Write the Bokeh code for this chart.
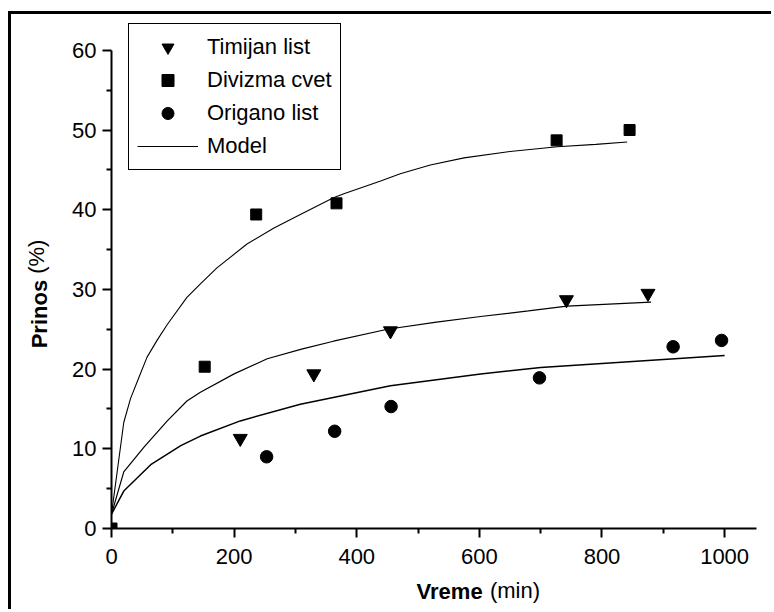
from bokeh.plotting import figure
from bokeh.models import FixedTicker, Legend, LegendItem, Range1d, LinearAxis
from bokeh.embed import file_html
from bokeh.resources import INLINE

# ---------------- data ----------------
timijan_x = [210, 330, 455, 742, 875]
timijan_y = [11.3, 19.4, 24.8, 28.7, 29.5]

divizma_x = [0, 152, 236, 367, 726, 845]
divizma_y = [0.0, 20.3, 39.4, 40.8, 48.7, 50.0]

origano_x = [253, 364, 456, 698, 916, 995]
origano_y = [9.0, 12.2, 15.3, 18.9, 22.8, 23.6]

# model curves
model_div_x = [0, 20, 31, 45, 58, 75, 91, 123, 145, 172, 221, 265, 308, 362,
               379, 439, 471, 520, 575, 650, 727, 790, 841]
model_div_y = [1.8, 13.3, 16.3, 19.0, 21.5, 23.7, 25.6, 29.0, 30.7, 32.7, 35.7,
               37.7, 39.4, 41.5, 42.0, 43.6, 44.5, 45.6, 46.5, 47.3, 47.9, 48.2, 48.5]

model_tim_x = [0, 20, 53, 91, 123, 145, 200, 254, 310, 362, 450, 530, 602,
               680, 743, 880]
model_tim_y = [1.8, 7.1, 10.2, 13.5, 16.0, 17.1, 19.4, 21.3, 22.5, 23.5, 25.0,
               25.9, 26.6, 27.3, 27.9, 28.4]

model_ori_x = [0, 20, 64, 113, 145, 210, 308, 455, 602, 700, 1000]
model_ori_y = [1.8, 4.7, 8.0, 10.4, 11.6, 13.5, 15.6, 17.9, 19.4, 20.2, 21.7]

x_ticks = [0, 200, 400, 600, 800, 1000]
x_minor = [100, 300, 500, 700, 900]
y_ticks = [0, 10, 20, 30, 40, 50, 60]
y_minor = [5, 15, 25, 35, 45, 55]

legend_labels = ["Timijan list", "Divizma cvet", "Origano list", "Model"]
x_title_bold, x_title_unit = "Vreme", "(min)"
y_title_bold, y_title_unit = "Prinos", "(%)"

FONT = "Liberation Sans"
FS = "22px"

# ---------------- figure ----------------
p = figure(width=763, height=598,
           x_range=Range1d(0, 1052), y_range=Range1d(0, 63.74),
           output_backend="svg", toolbar_location=None,
           min_border_left=100, min_border_right=18,
           min_border_top=6, min_border_bottom=84)
p.styles = {"margin-left": "8px", "margin-top": "11px",
            "border-left": "3px solid black", "border-top": "3px solid black"}
p.outline_line_color = None
p.xgrid.visible = False
p.ygrid.visible = False
p.background_fill_color = "white"
p.border_fill_color = "white"

for ax in (p.xaxis[0], p.yaxis[0]):
    ax.axis_line_width = 2
    ax.axis_line_color = "black"
    ax.major_tick_out = 9
    ax.major_tick_in = 0
    ax.minor_tick_out = 5
    ax.minor_tick_in = 0
    ax.major_tick_line_width = 2
    ax.minor_tick_line_width = 2
    ax.major_tick_line_color = "black"
    ax.minor_tick_line_color = "black"
    ax.major_label_text_font = FONT
    ax.major_label_text_font_size = FS
    ax.major_label_text_color = "black"

p.xaxis.ticker = FixedTicker(ticks=x_ticks, minor_ticks=x_minor)
p.yaxis.ticker = FixedTicker(ticks=y_ticks, minor_ticks=y_minor)
p.yaxis.bounds = (0, 60)
p.xaxis.major_label_standoff = 11
p.yaxis.major_label_standoff = 6


def title_part(text, pos, standoff, side, bold):
    """Invisible axis carrying one part of an axis title as its only tick label."""
    ax = LinearAxis(ticker=FixedTicker(ticks=[pos], minor_ticks=[]),
                    major_label_overrides={pos: text},
                    axis_line_color=None, major_tick_line_color=None,
                    minor_tick_line_color=None,
                    major_tick_out=0, major_tick_in=0,
                    minor_tick_out=0, minor_tick_in=0,
                    major_label_standoff=standoff,
                    major_label_text_font=FONT, major_label_text_font_size=FS,
                    major_label_text_font_style="bold" if bold else "normal",
                    major_label_text_color="black")
    if side == "left":
        ax.major_label_orientation = "vertical"
    p.add_layout(ax, side)
    return ax


# x title: "Vreme" (bold) + "(min)" on the same row
title_part(x_title_bold, 551.5, 12, "below", True)
title_part(x_title_unit, 658.1, -29, "below", False)
# y title: "Prinos" (bold) + "(%)" in the same column
title_part(y_title_bold, 26.9, 17, "left", True)
title_part(y_title_unit, 34.1, -25, "left", False)

# model curves
r_m1 = p.line(model_div_x, model_div_y, line_color="black", line_width=1.1)
r_m2 = p.line(model_tim_x, model_tim_y, line_color="black", line_width=1.2)
r_m3 = p.line(model_ori_x, model_ori_y, line_color="black", line_width=1.5)

# data points
r_t = p.scatter(timijan_x, timijan_y, marker="inverted_triangle", size=14,
                fill_color="black", line_color="black")
r_d = p.scatter(divizma_x, divizma_y, marker="square", size=11,
                fill_color="black", line_color="black")
r_o = p.scatter(origano_x, origano_y, marker="circle", size=12.5,
                fill_color="black", line_color="black")

legend = Legend(items=[LegendItem(label=legend_labels[0], renderers=[r_t]),
                       LegendItem(label=legend_labels[1], renderers=[r_d]),
                       LegendItem(label=legend_labels[2], renderers=[r_o]),
                       LegendItem(label=legend_labels[3], renderers=[r_m1])],
                location=(17, 358), margin=0, padding=8, spacing=3,
                glyph_width=61, glyph_height=30, label_height=30,
                label_standoff=9,
                label_text_font=FONT, label_text_font_size=FS,
                label_text_color="black",
                border_line_color="black", border_line_width=1,
                border_line_alpha=1.0,
                background_fill_color="white", background_fill_alpha=1.0)
p.add_layout(legend)

open("out.html", "w").write(file_html(p, INLINE))
